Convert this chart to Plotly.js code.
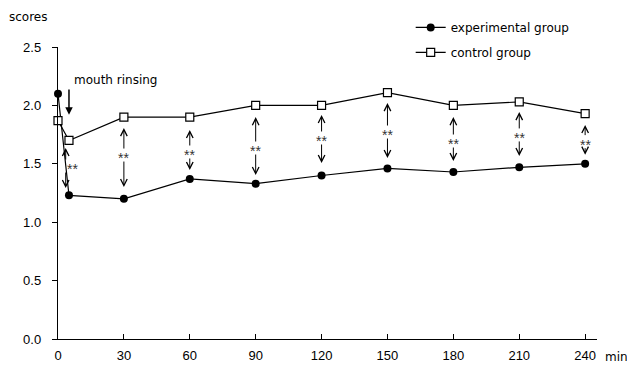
<!DOCTYPE html>
<html>
<head>
<meta charset="utf-8">
<script src="https://cdn.plot.ly/plotly-3.0.1.min.js"></script>
<style>html,body{margin:0;padding:0;background:#fff;}#chart{width:627px;height:368px;}</style>
</head>
<body>
<div id="chart"></div>
<script>
// ---- data ----
var timeMin = [0, 5, 30, 60, 90, 120, 150, 180, 210, 240];
var experimentalScores = [2.10, 1.23, 1.20, 1.37, 1.33, 1.40, 1.46, 1.43, 1.47, 1.50];
var controlScores = [1.87, 1.70, 1.90, 1.90, 2.00, 2.00, 2.11, 2.00, 2.03, 1.93];
var xTicks = [0, 30, 60, 90, 120, 150, 180, 210, 240];
var yTicks = [0.0, 0.5, 1.0, 1.5, 2.0, 2.5];
var yTickLabels = ['0.0', '0.5', '1.0', '1.5', '2.0', '2.5'];
// significance arrows: x position, arrow top, arrow bottom, label x, label y
var sigX = [3.5, 30, 60, 90, 120, 150, 180, 210, 240];
var sigTop = [1.635, 1.806, 1.789, 1.90, 1.918, 2.02, 1.90, 1.943, 1.832];
var sigBottom = [1.293, 1.301, 1.447, 1.404, 1.507, 1.55, 1.524, 1.567, 1.578];
var sigLabelX = [6.5, 30, 60, 90, 120, 150, 180, 210, 240];
var sigLabelY = [1.481, 1.575, 1.601, 1.635, 1.721, 1.772, 1.695, 1.747, 1.69];
var sigText = '**';

var FONT = 'Liberation Sans, Arial, sans-serif';
var TFONT = 'DejaVu Sans, sans-serif';

var traces = [
  {
    x: timeMin, y: experimentalScores, name: 'experimental group',
    type: 'scatter', mode: 'lines+markers', legendgroup: 'a',
    line: {color: '#000', width: 1.2},
    marker: {symbol: 'circle', size: 8, color: '#000'},
    cliponaxis: false
  },
  {
    x: timeMin, y: controlScores, name: 'control group',
    type: 'scatter', mode: 'lines+markers', legendgroup: 'b',
    line: {color: '#000', width: 1.2},
    marker: {symbol: 'square', size: 8, color: '#fff', line: {color: '#000', width: 1.2}},
    cliponaxis: false
  }
];

function halfArrow(x, yHead, yTail) {
  return {
    x: x, y: yHead, ax: x, ay: yTail,
    xref: 'x', yref: 'y', axref: 'x', ayref: 'y',
    text: '', showarrow: true, arrowside: 'end',
    arrowhead: 5, arrowsize: 1.3, arrowwidth: 1, arrowcolor: '#000',
    standoff: 0, startstandoff: 5, font: {size: 1}
  };
}

var annotations = [];
for (var i = 0; i < sigX.length; i++) {
  annotations.push(halfArrow(sigX[i], sigTop[i], sigLabelY[i]));
  annotations.push(halfArrow(sigX[i], sigBottom[i], sigLabelY[i]));
  annotations.push({
    x: sigLabelX[i], y: sigLabelY[i], xref: 'x', yref: 'y',
    text: sigText, showarrow: false, borderpad: 0,
    yshift: -3,
    font: {family: FONT, size: 14, color: '#333'}
  });
}
// mouth rinsing arrow
annotations.push({
  x: 5, y: 1.92, ax: 5, ay: 2.15, xref: 'x', yref: 'y', axref: 'x', ayref: 'y',
  text: '', showarrow: true, arrowhead: 2, arrowsize: 1, arrowwidth: 1.5,
  arrowcolor: '#000', font: {size: 1}
});
annotations.push({
  x: 6.2, y: 2.22, xref: 'x', yref: 'y', xanchor: 'left', yanchor: 'middle',
  text: 'mouth rinsing', showarrow: false,
  font: {family: TFONT, size: 12, color: '#000'}
});
annotations.push({
  x: -0.095, y: 1.103, xref: 'paper', yref: 'paper', xanchor: 'left', yanchor: 'middle',
  text: 'scores', showarrow: false, font: {family: TFONT, size: 12, color: '#000'}
});
annotations.push({
  x: 1.012, y: -0.062, xref: 'paper', yref: 'paper', xanchor: 'left', yanchor: 'middle',
  text: 'min', showarrow: false, font: {family: TFONT, size: 12, color: '#000'}
});

var layout = {
  width: 627, height: 368,
  margin: {l: 58, r: 30, t: 47, b: 29, autoexpand: false},
  paper_bgcolor: '#fff', plot_bgcolor: '#fff',
  font: {family: FONT, size: 13, color: '#000'},
  showlegend: true,
  legend: {
    xref: 'container', yref: 'container',
    x: 0.655, y: 0.965, xanchor: 'left', yanchor: 'top',
    font: {family: TFONT, size: 12, color: '#000'},
    traceorder: 'grouped', tracegroupgap: 6, bgcolor: 'rgba(0,0,0,0)'
  },
  xaxis: {
    range: [0, 245.4], tickmode: 'array', tickvals: xTicks,
    ticks: 'inside', ticklen: 5, tickwidth: 1, tickcolor: '#000',
    showline: true, linecolor: '#000', linewidth: 1.2,
    showgrid: false, zeroline: false, fixedrange: true,
    tickfont: {family: FONT, size: 13}, ticklabelstandoff: 4
  },
  yaxis: {
    range: [0, 2.5], tickmode: 'array', tickvals: yTicks, ticktext: yTickLabels,
    ticks: 'outside', ticklen: 5, tickwidth: 1, tickcolor: '#000',
    showline: true, linecolor: '#000', linewidth: 1.2,
    showgrid: false, zeroline: false, fixedrange: true,
    tickfont: {family: FONT, size: 13}, ticklabelstandoff: 8
  },
  annotations: annotations
};

Plotly.newPlot('chart', traces, layout, {displayModeBar: false, staticPlot: true});
</script>
</body>
</html>
